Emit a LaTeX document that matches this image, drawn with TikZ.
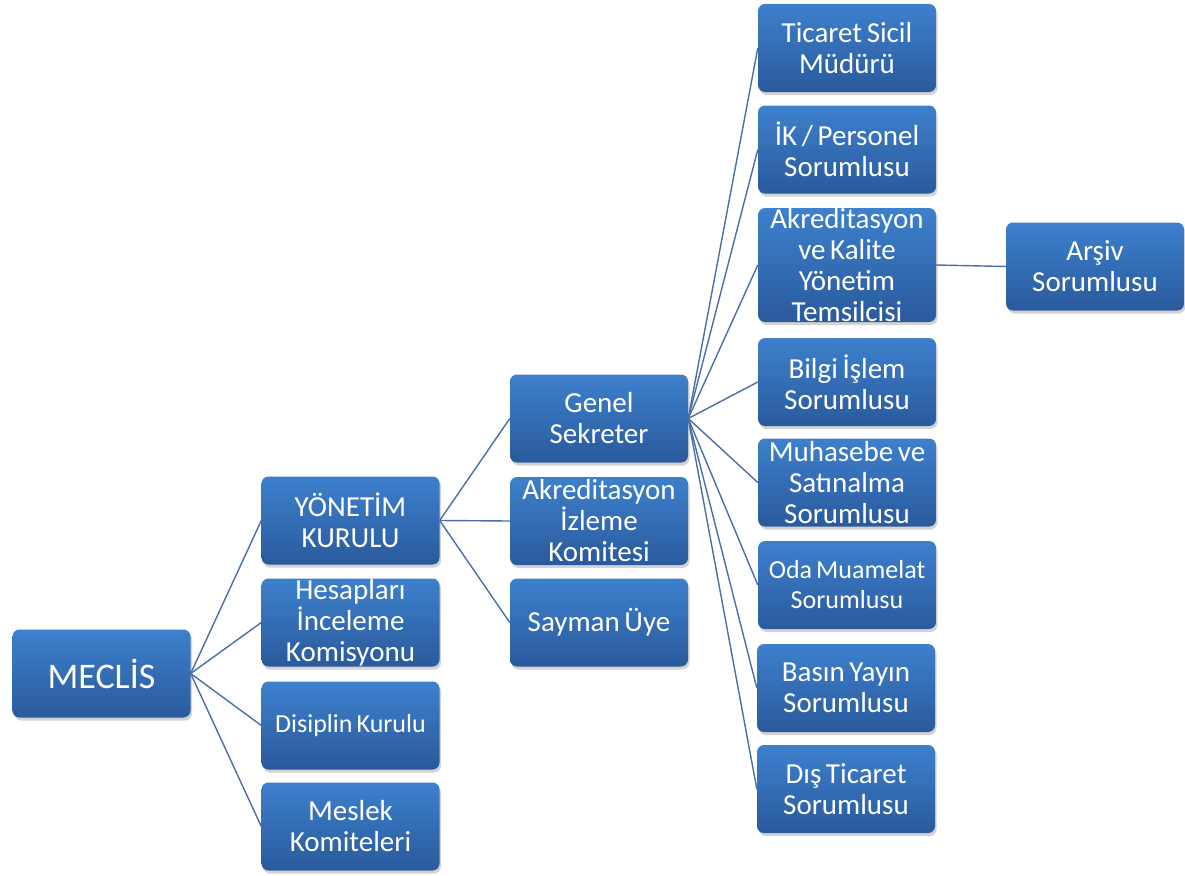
\documentclass[tikz,border=0pt]{standalone}
\usepackage{fontspec}
\setmainfont{Carlito}
\usetikzlibrary{shadows}
\definecolor{boxtop}{HTML}{3D80CD}
\definecolor{boxbot}{HTML}{2A5A9C}
\definecolor{linkblue}{HTML}{4A6FA5}
\tikzset{
  unit/.style={rounded corners=7pt, top color=boxtop, bottom color=boxbot,
    text=white, align=center, minimum width=178pt, minimum height=88pt,
    text width=178pt, inner sep=0pt, font=\fontsize{29}{31}\selectfont,
    execute at begin node={\spaceskip=0.16em\relax},
    drop shadow={opacity=0.35, shadow xshift=1.5pt, shadow yshift=-3pt}},
  small/.style={font=\fontsize{26}{30}\selectfont},
  link/.style={draw=linkblue, line width=1.4pt}
}
\begin{document}
\begin{tikzpicture}[x=1pt,y=-1pt]
      \useasboundingbox (0,0) rectangle (1185,875);
      \path
        (101.5,673.5) node[unit, minimum width=177pt, font=\fontsize{36}{40}\selectfont] (meclis){MECLİS}
        (350.5,520.5) node[unit] (yk){YÖNETİM\\KURULU}
        (350.5,622.5) node[unit] (hesap){Hesapları\\İnceleme\\Komisyonu}
        (350.5,725.5) node[unit, small] (disiplin){Disiplin Kurulu}
        (350.5,826.5) node[unit] (meslek){Meslek\\Komiteleri}
        (599,418.5) node[unit] (genel){Genel\\Sekreter}
        (599,521) node[unit] (izleme){Akreditasyon\\İzleme\\Komitesi}
        (599,622.5) node[unit] (sayman){Sayman Üye}
        (847,48) node[unit] (ticaret){Ticaret Sicil\\Müdürü}
        (847,149.5) node[unit] (ik){İK / Personel\\Sorumlusu}
        (847,265) node[unit, minimum height=114pt] (kalite){Akreditasyon\\ve Kalite\\Yönetim\\Temsilcisi}
        (847,382) node[unit] (bilgi){Bilgi İşlem\\Sorumlusu}
        (847,482.5) node[unit] (muhasebe){Muhasebe ve\\Satınalma\\Sorumlusu}
        (847,585) node[unit, small] (oda){Oda Muamelat\\Sorumlusu}
        (846,688) node[unit] (basin){Basın Yayın\\Sorumlusu}
        (846,789) node[unit] (dis){Dış Ticaret\\Sorumlusu}
        (1095,266.5) node[unit, minimum width=176pt] (arsiv){Arşiv\\Sorumlusu};
      \begin{scope}[link]
        \draw (meclis.east) to (yk.west);
        \draw (meclis.east) to (hesap.west);
        \draw (meclis.east) to (disiplin.west);
        \draw (meclis.east) to (meslek.west);
        \draw (yk.east) to (genel.west);
        \draw (yk.east) to (izleme.west);
        \draw (yk.east) to (sayman.west);
        \draw (genel.east) to (ticaret.west);
        \draw (genel.east) to (ik.west);
        \draw (genel.east) to (kalite.west);
        \draw (genel.east) to (bilgi.west);
        \draw (genel.east) to (muhasebe.west);
        \draw (genel.east) to (oda.west);
        \draw (genel.east) to (basin.west);
        \draw (genel.east) to (dis.west);
        \draw (kalite.east) to (arsiv.west);
      \end{scope}
    \end{tikzpicture}
\end{document}
